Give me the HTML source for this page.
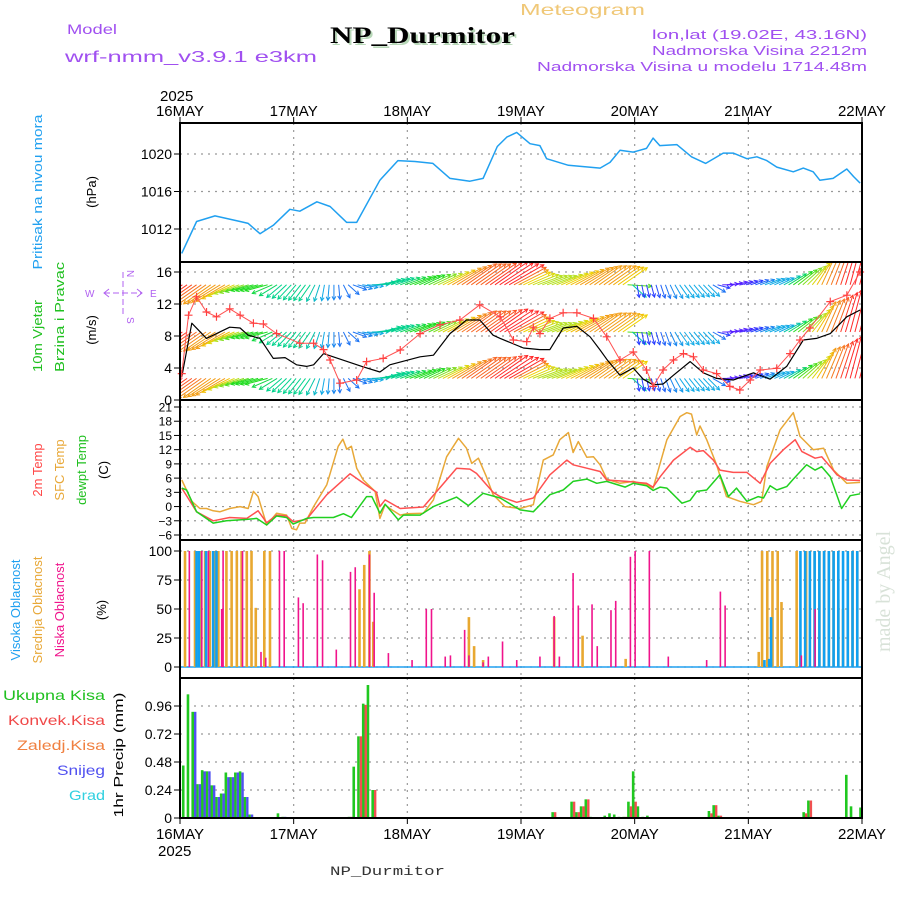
<!DOCTYPE html>
<html><head><meta charset="utf-8"><style>
html,body{margin:0;padding:0;background:#fff;}
svg{display:block;font-family:"Liberation Sans",sans-serif;}
</style></head><body>
<svg id="c" width="900" height="900" viewBox="0 0 900 900">
<g>
<text x="520" y="15" font-size="16" fill="#f0c878" textLength="125" lengthAdjust="spacingAndGlyphs">Meteogram</text>
<text x="67" y="34" font-size="14" fill="#a050f0" textLength="50" lengthAdjust="spacingAndGlyphs">Model</text>
<text x="65" y="62" font-size="16" fill="#a050f0" textLength="252" lengthAdjust="spacingAndGlyphs">wrf-nmm_v3.9.1 e3km</text>
<text x="332" y="45" font-size="23" font-weight="bold" fill="#b8d8b8" font-family="Liberation Serif, serif" textLength="185" lengthAdjust="spacingAndGlyphs">NP_Durmitor</text>
<text x="330" y="43" font-size="23" font-weight="bold" fill="#000" font-family="Liberation Serif, serif" textLength="185" lengthAdjust="spacingAndGlyphs">NP_Durmitor</text>
<text x="652" y="39" font-size="13" fill="#a050f0" textLength="215" lengthAdjust="spacingAndGlyphs">lon,lat (19.02E, 43.16N)</text>
<text x="652" y="55" font-size="13" fill="#a050f0" textLength="215" lengthAdjust="spacingAndGlyphs">Nadmorska Visina 2212m</text>
<text x="537" y="71" font-size="13" fill="#a050f0" textLength="330" lengthAdjust="spacingAndGlyphs">Nadmorska Visina u modelu 1714.48m</text>
<text x="160" y="101" font-size="15" fill="#000">2025</text>
<text x="158" y="856" font-size="15" fill="#000">2025</text>
<text x="330" y="875" font-size="13" fill="#333" font-family="Liberation Mono, monospace" textLength="115" lengthAdjust="spacingAndGlyphs">NP_Durmitor</text>
<text transform="translate(890,652) rotate(-90)" font-size="20" fill="#d8e2d8" font-family="Liberation Serif, serif">made by Angel</text>
</g>
<g>
<text transform="translate(42,192) rotate(-90)" font-size="13" fill="#20a0f0" text-anchor="middle" textLength="155" lengthAdjust="spacingAndGlyphs">Pritisak na nivou mora</text>
<text transform="translate(96,192) rotate(-90)" font-size="13" fill="#000" text-anchor="middle">(hPa)</text>
<text transform="translate(42,336) rotate(-90)" font-size="13" fill="#20c020" text-anchor="middle" textLength="72" lengthAdjust="spacingAndGlyphs">10m Vjetar</text>
<text transform="translate(64,317) rotate(-90)" font-size="13" fill="#20c020" text-anchor="middle" textLength="110" lengthAdjust="spacingAndGlyphs">Brzina i Pravac</text>
<text transform="translate(96,330) rotate(-90)" font-size="13" fill="#000" text-anchor="middle">(m/s)</text>
<text transform="translate(42,470) rotate(-90)" font-size="13" fill="#ff4848" text-anchor="middle">2m Temp</text>
<text transform="translate(64,470) rotate(-90)" font-size="13" fill="#e8a838" text-anchor="middle">SFC Temp</text>
<text transform="translate(86,470) rotate(-90)" font-size="13" fill="#20c020" text-anchor="middle">dewpt Temp</text>
<text transform="translate(108,470) rotate(-90)" font-size="13" fill="#000" text-anchor="middle">(C)</text>
<text transform="translate(20,610) rotate(-90)" font-size="13" fill="#20a0f0" text-anchor="middle">Visoka Oblacnost</text>
<text transform="translate(42,610) rotate(-90)" font-size="13" fill="#e8a838" text-anchor="middle">Srednja Oblacnost</text>
<text transform="translate(64,610) rotate(-90)" font-size="13" fill="#f0148c" text-anchor="middle">Niska Oblacnost</text>
<text transform="translate(106,610) rotate(-90)" font-size="13" fill="#000" text-anchor="middle">(%)</text>
<text transform="translate(123,755) rotate(-90)" font-size="13" fill="#000" text-anchor="middle" textLength="125" lengthAdjust="spacingAndGlyphs">1hr Precip (mm)</text>
<text x="3" y="700" font-size="14" fill="#20c020" textLength="102" lengthAdjust="spacingAndGlyphs">Ukupna Kisa</text>
<text x="8" y="725" font-size="14" fill="#f04848" textLength="97" lengthAdjust="spacingAndGlyphs">Konvek.Kisa</text>
<text x="17" y="750" font-size="14" fill="#f08040" textLength="88" lengthAdjust="spacingAndGlyphs">Zaledj.Kisa</text>
<text x="57" y="775" font-size="14" fill="#5050f0" textLength="48" lengthAdjust="spacingAndGlyphs">Snijeg</text>
<text x="69" y="800" font-size="14" fill="#30d0e0" textLength="36" lengthAdjust="spacingAndGlyphs">Grad</text>
</g>
<g stroke="#b060f0" fill="none" stroke-width="1">
<line x1="104" y1="293" x2="142" y2="293" stroke-dasharray="6,3"/>
<polyline points="109,289 104,293 109,297"/><polyline points="137,289 142,293 137,297"/>
<line x1="123" y1="272" x2="123" y2="316" stroke-dasharray="6,3"/>
<text x="85" y="297" font-size="10" fill="#b060f0" stroke="none">W</text>
<text x="150" y="297" font-size="10" fill="#b060f0" stroke="none">E</text>
<text transform="translate(127,270) rotate(90)" font-size="10" fill="#b060f0" stroke="none">N</text>
<text transform="translate(127,317) rotate(90)" font-size="10" fill="#b060f0" stroke="none">S</text>
</g>
</svg>
<script>
const dayLabels=["16MAY","17MAY","18MAY","19MAY","20MAY","21MAY","22MAY"];
const pHours=[0.35,3.5,7.4,12.7,14.4,16.9,19.7,23.2,25.3,28.9,31.7,35.2,37.3,42.2,46,49.6,53.4,57,61.2,64,67,69,71.1,73.9,76,77.4,82,88.7,90.8,92.9,95.7,98.5,99.9,101.3,104.9,108,111,114.7,116.8,119.7,121.8,123.9,126,129.5,131.6,133.7,135.1,137.9,140.8,142.2,143.6];
const pVals=[1009.4,1012.8,1013.4,1012.8,1012.6,1011.5,1012.4,1014.1,1013.9,1014.9,1014.4,1012.7,1012.7,1017.2,1019.3,1019.2,1019.0,1017.4,1017.1,1017.4,1020.8,1021.8,1022.3,1021.1,1020.9,1019.5,1018.8,1018.5,1019.1,1020.4,1020.2,1020.6,1021.7,1020.9,1021.0,1019.7,1019.0,1020.1,1020.1,1019.5,1019.7,1019.3,1018.6,1018.1,1018.5,1018.1,1017.2,1017.4,1018.4,1017.6,1016.9];
const pTicks=[1012,1016,1020];
const wsHours=[0.37,2.5,5.6,10.5,12.7,14.4,16.9,19.7,22.2,24.6,26.7,28.2,30.3,38.4,42.2,44.3,50.7,53.5,57.0,60.5,63.3,66.1,67.6,72.5,76.0,78.1,80.9,83.8,86.6,88.7,90.1,92.9,95.7,97.8,99.9,102.0,104.2,107.7,110.5,113.3,116.8,121.1,124.6,128.1,131.6,134.4,137.3,140.8,143.6];
const wsVals=[2.9,9.6,7.7,9.1,9.0,8.1,7.7,5.2,5.3,4.4,4.2,4.4,5.8,4.2,3.5,4.4,5.4,5.6,8.3,10.0,10.0,8.1,7.7,6.5,6.3,6.3,9.0,9.2,7.9,6.25,5.1,3.1,4.0,2.6,1.9,2.0,3.1,4.8,3.4,2.7,2.5,3.4,2.6,4.2,7.5,7.7,8.3,10.4,11.25];
const gHours=[0.37,1.8,3.5,5.6,7.7,10.5,12.7,15.5,17.6,20.4,25.3,28.2,30.3,31.7,33.8,37.3,39.4,42.9,46.5,50.7,54.9,59.1,63.3,67.6,70.4,73.2,74.6,76.0,78.1,80.9,83.8,87.3,90.1,92.9,95.7,98.5,99.9,102.0,104.2,106.3,108.4,110.5,113.3,116.1,118.2,120.4,122.5,126.0,128.8,130.9,133.0,137.3,140.8,143.6];
const gVals=[3.3,10.6,12.9,11.0,10.4,11.4,10.6,9.6,9.5,8.3,7.1,7.1,6.3,5.0,2.1,2.5,4.8,5.2,6.25,8.3,9.4,10.0,11.9,10.4,7.5,7.3,9.1,8.3,10.2,10.9,10.9,10.2,7.9,5.0,6.0,3.75,1.7,3.75,5.0,5.8,5.4,3.75,3.3,1.7,1.25,2.5,3.75,3.96,5.8,7.5,9.0,12.3,13.1,16.0];
const arrowDir=[235,235,235,240,250,255,255,230,220,215,190,175,110,95,75,70,70,65,65,60,55,55,55,60,65,70,70,65,60,55,55,55,170,165,160,145,140,135,90,75,70,70,65,55,45,25,20,15,15];
const arrowSpd=[10,9,8,8,6,5,5,4,4,4,3,2.5,2.5,3,4,4,5,5,6,8,9,9,10,10,7,6,6,7,8,8,8,7,2,2,2.5,3,3,3,1.5,1.5,2,3,3,5,6,8,9,11,12];
const arrowRows=[14.4,8.5,2.7];
const wTicks=[0,4,8,12,16];
const t2Hours=[0.37,3.5,7.0,10.5,14.1,16.5,18.3,20.4,22.5,23.9,26.7,31.0,35.9,41.5,42.2,43.3,46.5,51.4,58.4,61.2,62.6,66.1,67.6,71.1,74.6,78.1,81.7,83.0,85.9,88.7,90.1,94.3,98.5,99.9,101.4,104.2,107.7,109.1,110.5,112.6,114.0,116.8,119.7,122.5,124.6,127.4,129.9,131.3,134.1,135.5,137.3,138.7,140.8,143.6];
const t2Vals=[3.9,-1.1,-3.0,-2.3,-2.5,-0.9,-3.4,-1.8,-2.0,-3.2,-2.7,2.5,6.9,3.0,0,1.4,-0.4,-0.1,8.1,7.9,7.0,3.0,2.1,0.9,1.8,6.7,9.8,8.8,8.1,7.4,5.6,5.3,4.9,4.1,6.3,9.8,12.5,11.6,11.8,9.8,7.7,7.2,7.2,4.9,9.1,12.0,14.1,11.6,10.2,10.5,8.4,6.7,5.6,5.5];
const sfcHours=[0.37,2.5,4.2,5.6,7.0,8.4,10.5,12.7,14.4,15.5,16.5,18.3,20.4,22.5,23.6,24.6,25.3,26.4,28.2,31.0,33.4,34.4,35.2,36.2,37.3,38.7,41.2,42.2,43.3,44.3,46.5,47.9,51.4,53.5,56.3,58.8,60.5,61.6,63.0,64.7,66.1,68.6,71.8,74.6,76.7,78.8,80.2,82.0,83.0,84.1,85.9,87.3,88.7,90.1,92.9,95.7,98.5,99.9,102.8,105.6,107.0,108.0,109.1,109.8,111.2,113.3,115.4,118.2,121.1,122.8,123.9,126.7,129.5,130.9,132.3,133.7,135.9,138.0,140.8,143.6];
const sfcVals=[5.6,1.1,-0.4,-0.4,-0.9,-1.1,-0.4,0,-0.4,3.2,2.1,-3.9,-1.4,-1.8,-4.6,-4.9,-3.5,-3.5,0,4.6,12.7,14.2,12.1,12.7,8.1,5.6,3.2,-2.5,0.4,-0.4,-1.8,-1.5,-1.4,1.4,10.5,14.4,12.3,9.1,10.2,6.3,2.5,0,-0.4,0.4,9.8,10.9,14.1,15.6,11.4,13.7,10.4,10.5,8.8,5.8,4.9,5.3,4.6,3.9,14.1,19.0,19.8,19.5,15.1,17.0,14.1,8.8,2.1,1.1,0.4,1.1,8.4,16.2,19.8,14.8,13.4,12.0,12.3,7.7,4.9,5.1];
const dewHours=[0.37,1.4,3.5,7.0,9.8,14.1,16.2,18.3,20.4,22.5,23.9,26.7,28.2,32.4,34.5,36.2,39.4,40.5,42.2,43.3,46.1,47.2,50.7,53.5,58.4,60.9,64.0,67.6,71.8,74.6,78.1,80.9,83.0,85.9,88.0,90.1,94.0,95.7,98.5,99.9,101.4,102.8,106.0,107.7,109.1,111.2,114.0,115.8,117.5,119.7,122.1,123.2,124.6,126.0,128.1,129.5,132.3,134.1,135.5,137.3,139.7,141.5,143.6];
const dewVals=[3.9,3.5,-1.1,-3.5,-3.0,-2.7,-2.5,-3.9,-2.0,-2.3,-3.7,-2.5,-2.3,-2.3,-1.5,-2.3,2.1,2.1,-1.4,0.5,-2.8,-1.8,-1.8,0,2.0,0.2,2.8,1.8,-0.7,-1.1,2.5,3.5,5.3,5.8,4.9,5.3,4.1,4.9,4.4,3.4,4.1,3.9,0.7,1.3,3.2,3.5,6.7,2.1,3.9,1.1,2.1,1.8,4.4,3.5,4.2,5.8,8.8,7.7,8.4,6.3,-0.4,2.3,2.7];
const tTicks=[-6,-3,0,3,6,9,12,15,18,21];
const highHours=[3.5,4.0,5.5,7.0,7.7,123.4,124.4,124.8,131,132,133,134,135,136,137,138,139,140,141,142,143];
const highVals=[100,100,100,100,100,6,7,43,100,100,100,100,100,100,100,100,100,100,100,100,100];
const midHours=[1.06,3.17,4.2,5.3,6.3,7.4,8.1,9.8,10.9,12.0,13.0,14.1,15.1,16.0,17.8,19.0,37.9,38.9,40.0,40.8,61.0,62.1,64.0,79.0,85.0,94.1,122.2,122.9,124.0,125.1,126.2,127.0,130.2,132.2,134,135,136,137,138,139,140,141,142,143];
const midVals=[100,100,100,100,100,100,100,100,100,100,100,100,100,51,100,100,67,88,100,39,43,18,6,43,27,7,13,100,100,100,100,56,100,100,100,100,100,100,100,58,50,100,100,100];
const lowHours=[1.97,4.6,6.0,8.8,9.1,13.2,17.1,18.1,21.0,22.0,25,26,29,30.1,33,36,37,40,41,44,49,52,53.1,56,57.1,60.1,61,64,65.1,68.1,71.1,76,79,80.1,83,84.1,87,88.1,91,92,95.1,96.1,99.1,103.1,111.2,114.1,115.1,131.2,134.1];
const lowVals=[100,100,100,50,100,100,13,8,100,100,60,55,97,92,15,82,86,97,64,12,6,50,50,9,10,32,10,4,9,22,6,9,44,9,81,53,54,18,49,57,95,100,100,9,6,65,53,10,50];
const cTicks=[0,25,50,75,100];
const precipHours=[1,2,3,4,5,6,7,8,9,10,11,12,13,14,15,21,22,36,37,38,39,40,41,79,83,84,85,86,87,90,91,92,93,94,95,96,97,98,99,112,113,114,132,133,141,142,144];
const totalPrecip=[0.45,1.06,0.91,0.29,0.41,0.40,0.28,0.18,0.21,0.39,0.35,0.39,0.40,0.18,0.03,0.04,0.01,0.01,0.44,0.70,0.98,1.14,0.24,0.05,0.14,0.05,0.10,0.16,0.01,0.02,0.04,0.03,0.01,0.01,0.14,0.40,0.10,0.01,0.02,0.06,0.11,0.02,0.05,0.15,0.37,0.10,0.09];
const convPrecip=[0,0,0,0,0,0,0,0,0,0,0,0,0,0,0,0,0,0.01,0,0.70,0.97,0,0.24,0.05,0.14,0.05,0.10,0.16,0,0,0,0,0,0.01,0.10,0.14,0,0,0,0.04,0.11,0.02,0.04,0.15,0,0,0];
const snowPrecip=[0,0,0.91,0.29,0.40,0.40,0.28,0.18,0.21,0.35,0.35,0.39,0.39,0.18,0.03,0,0.01,0,0,0,0,0,0,0,0,0,0,0,0,0,0,0,0,0,0,0,0,0,0,0,0,0,0,0,0,0,0];
const prTicks=[0,0.24,0.48,0.72,0.96];

const NS="http://www.w3.org/2000/svg";
const svg=document.getElementById('c');
const X0=180,X1=862;
function xs(h){return X0+h*(X1-X0)/144;}
function lin(d0,d1,r0,r1){return v=>r0+(v-d0)*(r1-r0)/(d1-d0);}
function mk(tag,attrs,parent){const e=document.createElementNS(NS,tag);for(const k in attrs)e.setAttribute(k,attrs[k]);(parent||svg).appendChild(e);return e;}
const panels=[
 {name:'pressure',top:123,bot:262,y:lin(1020,1012,154,229),ticks:pTicks,fmt:v=>v},
 {name:'wind',top:262,bot:400,y:lin(0,16,400,272),ticks:wTicks,fmt:v=>v},
 {name:'temp',top:400,bot:540,y:lin(21,-6,407,535),ticks:tTicks,fmt:v=>v<0?'\u2212'+(-v):v},
 {name:'cloud',top:540,bot:678,y:lin(0,100,667,551),ticks:cTicks,fmt:v=>v},
 {name:'precip',top:678,bot:818,y:lin(0,0.96,818,706),ticks:prTicks,fmt:v=>v===0?'0':v.toFixed(2)}
];
panels.forEach(p=>{
 const g=mk('g',{});
 
 
 const cp=mk('clipPath',{id:'clip-'+p.name},g);
 mk('rect',{x:X0,y:p.top,width:X1-X0,height:p.bot-p.top},cp);
 for(let d=1;d<6;d++){const l=mk('line',{x1:xs(d*24),x2:xs(d*24),y1:p.top,y2:p.bot,stroke:'#999','stroke-dasharray':'2,5','stroke-width':1.2},g);
  }
 p.ticks.forEach(t=>{const yy=p.y(t);
  if(yy>p.top+2&&yy<p.bot-2){const l=mk('line',{x1:X0,x2:X1,y1:yy,y2:yy,stroke:'#999','stroke-dasharray':'2,5','stroke-width':1.2},g);
   }
  mk('line',{x1:X0-6,x2:X0,y1:yy,y2:yy,stroke:'#000'},g);
  const tx=mk('text',{x:X0-8,y:yy+(p.name==='temp'?4.5:5),'text-anchor':'end','font-size':p.name==='temp'?12:14,fill:'#000'},g);
  tx.textContent=p.fmt(t);
  
 });
 p.g=g;
});
function poly(hours,vals,p,color,name,w){
 const pts=hours.map((h,i)=>xs(h).toFixed(1)+','+p.y(vals[i]).toFixed(1)).join(' ');
 const e=mk('polyline',{points:pts,fill:'none',stroke:color,'stroke-width':w||1.4,'clip-path':'url(#clip-'+p.name+')','stroke-linejoin':'round'});
 
 return e;
}
poly(pHours,pVals,panels[0],'#20a0f0','pressure-line',1.5);
function spdColor(s){
 const st=[[1,[128,0,255]],[2,[40,60,255]],[3,[16,170,230]],[4,[0,210,140]],[5,[30,220,30]],[6,[180,225,30]],[7,[240,210,0]],[8.5,[245,130,30]],[10,[255,40,40]]];
 if(s<=st[0][0])return 'rgb('+st[0][1]+')';
 for(let i=1;i<st.length;i++){if(s<=st[i][0]){const f=(s-st[i-1][0])/(st[i][0]-st[i-1][0]);const c=st[i-1][1].map((v,k)=>Math.round(v+(st[i][1][k]-v)*f));return 'rgb('+c+')';}}
 return 'rgb('+st[st.length-1][1]+')';
}
const wp=panels[1];
const wg=mk('g',{'clip-path':'url(#clip-wind)'});


for(let k=0;k<144;k++){
 const i=Math.floor(k/3),f=(k%3)/3;
 const j=Math.min(i+1,arrowDir.length-1);
 const dir=arrowDir[i]+(arrowDir[j]-arrowDir[i])*f;
 const spd=arrowSpd[i]+(arrowSpd[j]-arrowSpd[i])*f;
 const L=6+3.4*spd,a=dir*Math.PI/180;
 const dx=L*Math.sin(a),dy=-L*Math.cos(a);
 const col=spdColor(spd);
 arrowRows.forEach(r=>{
  const x0=xs(k+0.5),y0=wp.y(r),x1=x0+dx,y1=y0+dy;
  const ar=mk('g',{stroke:col,'stroke-width':1,fill:'none'},wg);
  
  
  mk('line',{x1:x0,y1:y0,x2:x1,y2:y1},ar);
  const hl=4,ang=Math.atan2(dy,dx);
  mk('polyline',{points:(x1-hl*Math.cos(ang-0.5))+','+(y1-hl*Math.sin(ang-0.5))+' '+x1+','+y1+' '+(x1-hl*Math.cos(ang+0.5))+','+(y1-hl*Math.sin(ang+0.5))},ar);
 });
}
poly(wsHours,wsVals,wp,'#000','wind-speed-line',1.2);
poly(gHours,gVals,wp,'#ff5050','wind-gust-line',1);
gHours.forEach((h,i)=>{const x=xs(h),y=wp.y(gVals[i]);
 const m=mk('path',{d:`M${x-4},${y}H${x+4}M${x},${y-4}V${y+4}`,stroke:'#ff4040','stroke-width':1.2});
 });
const tp=panels[2];
poly(sfcHours,sfcVals,tp,'#e8a838','sfc-temp-line',1.5);
poly(t2Hours,t2Vals,tp,'#ff5050','temp-2m-line',1.5);
poly(dewHours,dewVals,tp,'#20d020','dewpoint-line',1.5);
const cp=panels[3];
const base=mk('line',{x1:X0,x2:X1,y1:cp.y(0),y2:cp.y(0),stroke:'#20a0f0','stroke-width':1.5});

function bars(hours,vals,p,color,w,off,name){
 hours.forEach((h,i)=>{const y0=p.y(0),y1=p.y(vals[i]);
  const r=mk('rect',{x:xs(h)+off,y:y1,width:w,height:Math.max(0,y0-y1),fill:color});
  });
}
bars(midHours,midVals,cp,'#e8a830',2.6,-1.3,'mid-cloud-bar');
bars(highHours,highVals,cp,'#10a0f0',2.6,-1.3,'high-cloud-bar');
bars(lowHours,lowVals,cp,'#f0148c',1.6,-0.8,'low-cloud-bar');
const pp=panels[4];
bars(precipHours,totalPrecip,pp,'#20c820',2.6,-2.8,'total-precip-bar');
bars(precipHours,convPrecip,pp,'#f05050',2.4,-0.2,'convective-precip-bar');
bars(precipHours,snowPrecip,pp,'#5050f0',2.4,-0.2,'snow-precip-bar');
panels.forEach(p=>{const r=mk('rect',{x:X0,y:p.top,width:X1-X0,height:p.bot-p.top,fill:'none',stroke:'#000','stroke-width':2});
 });
dayLabels.forEach((d,i)=>{const x=xs(i*24);
 mk('line',{x1:x,x2:x,y1:117,y2:123,stroke:'#000'});
 mk('line',{x1:x,x2:x,y1:818,y2:824,stroke:'#000'});
 const t1=mk('text',{x:x,y:116,'text-anchor':'middle','font-size':15,fill:'#000'});t1.textContent=d;
 
 const t2=mk('text',{x:x,y:839,'text-anchor':'middle','font-size':15,fill:'#000'});t2.textContent=d;
 
});
</script>
</body></html>
